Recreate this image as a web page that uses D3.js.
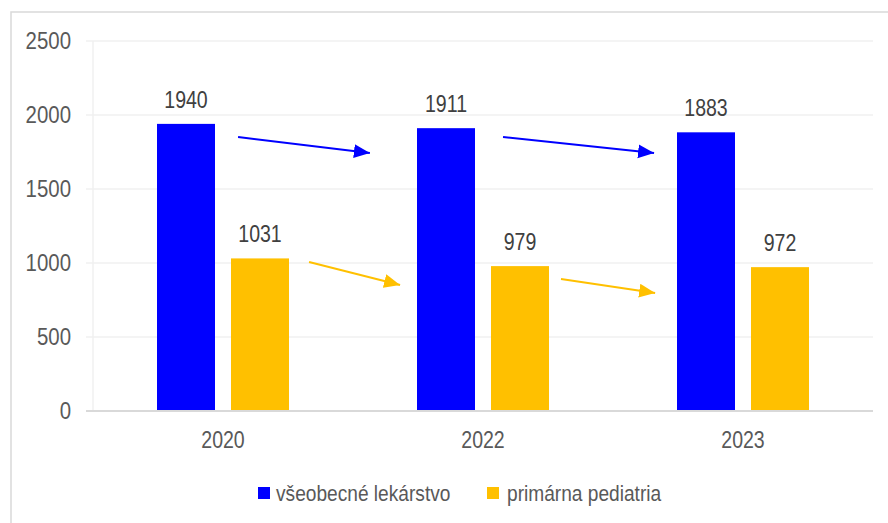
<!DOCTYPE html>
<html>
<head>
<meta charset="utf-8">
<script src="https://cdn.jsdelivr.net/npm/d3@7"></script>
<style>
  html, body { margin: 0; padding: 0; background: #fff; }
  svg { display: block; }
  text { font-family: "Liberation Sans", Arial, sans-serif; }
</style>
</head>
<body>
<svg id="chart" width="888" height="523"></svg>
<script>
// ---- data ----
const categories = ["2020", "2022", "2023"];
const seriesNames = ["všeobecné lekárstvo", "primárna pediatria"];
const generalValues = [1940, 1911, 1883];
const pediatricValues = [1031, 979, 972];
const yTicks = [0, 500, 1000, 1500, 2000, 2500];
const colors = ["#0000FF", "#FFC000"];
// trend arrows: position along the category axis (in bands) and value
const blueArrows = [
  { x0: 0.558, v0: 1851, x1: 1.065, v1: 1743 },
  { x0: 1.577, v0: 1851, x1: 2.158, v1: 1743 }
];
const orangeArrows = [
  { x0: 0.831, v0: 1007, x1: 1.181, v1: 851 },
  { x0: 1.800, v0: 892, x1: 2.162, v1: 797 }
];

const svg = d3.select("#chart");
const W = 888, H = 523;
svg.append("rect").attr("width", W).attr("height", H).attr("fill", "#fff");
svg.append("rect").attr("x", 11).attr("y", 12).attr("width", 920).attr("height", 620)
  .attr("fill", "none").attr("stroke", "#d9d9d9").attr("stroke-width", 1.5);

const x = d3.scaleBand().domain(categories).range([93, 873]).paddingInner(0).paddingOuter(0);
const inner = d3.scaleBand().domain(seriesNames).range([64, 196]).paddingInner(16 / 74).paddingOuter(0);
const y = d3.scaleLinear().domain([0, 2500]).range([411, 41]);

function scaledText(parent, tx, ty, str, opts) {
  const g = parent.append("g").attr("transform", `translate(${tx},${ty}) scale(${opts.sx || 0.85},1)`);
  g.append("text").attr("x", 0).attr("y", 0)
    .attr("text-anchor", opts.anchor || "start")
    .attr("dominant-baseline", opts.baseline || "auto")
    .attr("font-size", opts.size || 23)
    .attr("fill", opts.fill || "#595959")
    .text(str);
  return g;
}

// gridlines
svg.append("g").selectAll("line").data(yTicks.filter(d => d > 0)).join("line")
  .attr("x1", 86).attr("x2", 873)
  .attr("y1", d => y(d)).attr("y2", d => y(d))
  .attr("stroke", "#f0f0f0").attr("stroke-width", 1.5);
// vertical axis line
svg.append("line").attr("x1", 93).attr("x2", 93).attr("y1", y(2500)).attr("y2", y(0))
  .attr("stroke", "#f0f0f0").attr("stroke-width", 1.5);

// bars
const series = [generalValues, pediatricValues];
series.forEach((vals, si) => {
  svg.append("g").selectAll("rect").data(vals).join("rect")
    .attr("x", (d, i) => x(categories[i]) + inner(seriesNames[si]))
    .attr("width", inner.bandwidth())
    .attr("y", d => y(d))
    .attr("height", d => y(0) - y(d))
    .attr("fill", colors[si]);
  vals.forEach((d, i) => {
    scaledText(svg, x(categories[i]) + inner(seriesNames[si]) + inner.bandwidth() / 2, y(d) - 16,
      String(d), { anchor: "middle", fill: "#404040", size: 23 });
  });
});

// zero baseline
svg.append("line").attr("x1", 86).attr("x2", 873).attr("y1", y(0)).attr("y2", y(0))
  .attr("stroke", "#d9d9d9").attr("stroke-width", 2);

// y tick labels
yTicks.forEach(t => {
  scaledText(svg, 71, y(t), String(t), { anchor: "end", baseline: "central", size: 24 });
});
// x labels
categories.forEach(c => {
  scaledText(svg, x(c) + x.bandwidth() / 2, 440, c, { anchor: "middle", baseline: "central", size: 23 });
});

// arrows
const defs = svg.append("defs");
colors.forEach((c, i) => {
  defs.append("marker").attr("id", "arr" + i)
    .attr("markerUnits", "userSpaceOnUse")
    .attr("markerWidth", 17).attr("markerHeight", 15)
    .attr("refX", 16).attr("refY", 7).attr("orient", "auto")
    .append("path").attr("d", "M0,0 L16,7 L0,14 Z").attr("fill", c);
});
const bandPos = f => x.range()[0] + f * x.step();
[blueArrows, orangeArrows].forEach((arr, i) => {
  svg.append("g").selectAll("line").data(arr).join("line")
    .attr("x1", d => bandPos(d.x0)).attr("y1", d => y(d.v0))
    .attr("x2", d => bandPos(d.x1)).attr("y2", d => y(d.v1))
    .attr("stroke", colors[i]).attr("stroke-width", 2)
    .attr("marker-end", `url(#arr${i})`);
});

// legend
const legendItems = [
  { name: seriesNames[0], color: colors[0], sx: 258, tx: 276 },
  { name: seriesNames[1], color: colors[1], sx: 487, tx: 507 }
];
legendItems.forEach(it => {
  svg.append("rect").attr("x", it.sx).attr("y", 487).attr("width", 12).attr("height", 12).attr("fill", it.color);
  scaledText(svg, it.tx, 493, it.name, { baseline: "central", size: 22, sx: 0.87 });
});
</script>
</body>
</html>
